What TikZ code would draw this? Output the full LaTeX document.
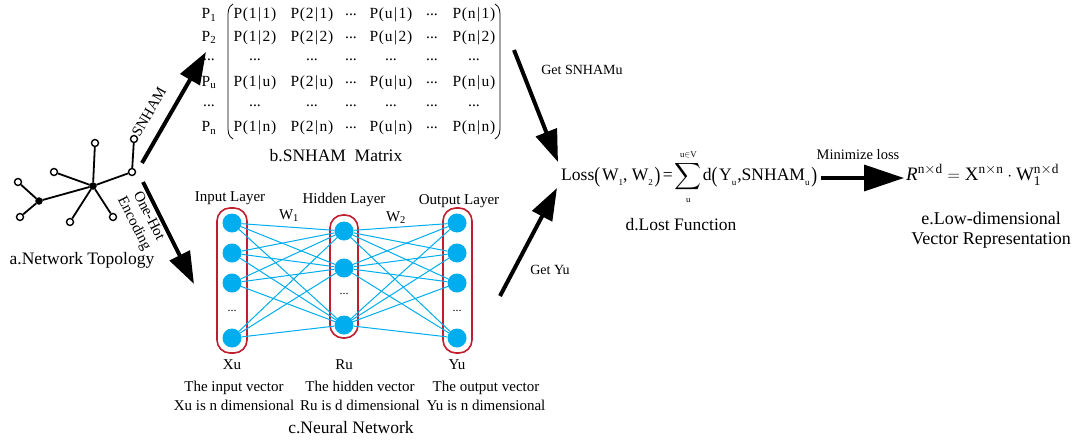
\documentclass[tikz,border=0pt]{standalone}
\usepackage{amsmath}
\usepackage{graphicx}
\usepackage{fontspec}
\setmainfont{Liberation Serif}
\usetikzlibrary{arrows.meta}
\definecolor{nncyan}{RGB}{0,174,239}
\definecolor{nnred}{RGB}{190,30,45}
\newcommand{\tx}[1]{\text{#1}}
\newcommand{\pe}[2]{P\kern0.6pt(\kern0.8pt#1\kern1.5pt|\kern1.5pt#2\kern0.8pt)}
\newcommand{\sbs}[1]{\raisebox{-0.28em}{\fontsize{10}{10}\selectfont #1}}
\newcommand{\bp}[1]{\raisebox{-0.12em}{\scalebox{1}[1.25]{#1}}}
\begin{document}
\begin{tikzpicture}[x=1pt,y=-1pt,
  captext/.style={font=\fontsize{17.5}{21}\selectfont, inner sep=0},
  lbl/.style={font=\fontsize{15}{18}\selectfont, inner sep=0},
  smalltext/.style={font=\fontsize{14}{19}\selectfont, inner sep=0},
  vectext/.style={font=\fontsize{15}{19}\selectfont, inner sep=0, align=center},
  mattext/.style={font=\fontsize{15.5}{18}\selectfont, inner sep=0},
  formula/.style={font=\fontsize{19.5}{22}\selectfont, inner sep=0},
  topo/.style={circle, draw, line width=1.4pt, fill=white, minimum size=7pt, inner sep=0},
  topohub/.style={circle, draw, line width=1.4pt, fill=black, minimum size=6pt, inner sep=0},
  topoedge/.style={line width=1.8pt},
  neuron/.style={circle, fill=nncyan, minimum size=19pt, inner sep=0},
  layerbox/.style={draw=nnred, line width=1.6pt, rounded corners=13pt},
  conn/.style={draw=nncyan, line width=1pt},
  bigarrow/.style={line width=4pt, -{Triangle[length=32pt,width=22pt]}},
]
\useasboundingbox (0,0) rectangle (1073,439);

% ---------- a. Network topology ----------
\node[topohub] (tc) at (93,186) {};
\node[topo] (tt) at (95,143) {};
\node[topo] (tul) at (54,172) {};
\node[topohub] (tlh) at (39,201) {};
\node[topo] (tl1) at (18,182) {};
\node[topo] (tl2) at (20,217) {};
\node[topo] (tlo) at (70,222) {};
\node[topo] (tlr) at (113,217) {};
\node[topo] (trh) at (132,172) {};
\node[topo] (trl) at (134,139) {};
\foreach \a/\b in {tc/tt, tc/tul, tc/tlh, tc/tlo, tc/tlr, tc/trh, tlh/tl1, tlh/tl2, trh/trl}
  \draw[topoedge] (\a) -- (\b);
\node[captext] (capa) at (82,260) {a.Network Topology};

% ---------- arrows from topology ----------
\coordinate (s1) at (142,163);
\coordinate (s2) at (206,52);
\draw[bigarrow] (s1) -- (s2);
\node[lbl, rotate=60] (snhamlbl) at (149,112) {SNHAM};
\coordinate (o1) at (143,182);
\coordinate (o2) at (194,284);
\draw[bigarrow] (o1) -- (o2);
\node[lbl, rotate=-63, align=center, font=\fontsize{15}{16.5}\selectfont] (onehot) at (141,220) {One-Hot\\Encoding};

% ---------- b. SNHAM matrix ----------
\foreach \r/\y/\k in {1/15/1, 2/37.6/2, 4/82.8/u, 6/128/n} {
  \node[mattext] (pl\r) at (209,\y) {$\tx{P}_{\tx{\k}}$};
  \node[mattext] (m\r c1) at (255,\y) {\pe{1}{\k}};
  \node[mattext] (m\r c2) at (312,\y) {\pe{2}{\k}};
  \node[mattext] (m\r c3) at (351,\y) {...};
  \node[mattext] (m\r c4) at (391,\y) {\pe{u}{\k}};
  \node[mattext] (m\r c5) at (432,\y) {...};
  \node[mattext] (m\r c6) at (474,\y) {\pe{n}{\k}};
}
\foreach \r/\y in {3/60.2, 5/105.4} {
  \node[mattext] (pl\r) at (209,\y) {...};
  \foreach \c/\x in {1/255, 2/312, 3/351, 4/391, 5/432, 6/474}
    \node[mattext] (m\r c\c) at (\x,\y) {...};
}
\draw[line width=0.8pt] (233,4) .. controls (228,7) and (228,11) .. (228,18) -- (228,125) .. controls (228,132) and (228,136) .. (233,139);
\draw[line width=0.8pt] (495,4) .. controls (500,7) and (500,11) .. (500,18) -- (500,125) .. controls (500,132) and (500,136) .. (495,139);
\node[captext] (capb) at (336,156) {b.SNHAM\ \ Matrix};

% ---------- c. Neural network ----------
\draw[layerbox] (217,208) rectangle (247,353);
\draw[layerbox] (330,215) rectangle (358,338);
\draw[layerbox] (443,208) rectangle (472,353);
\foreach \i/\y in {1/223, 2/253, 3/283, 4/338}
  \node[neuron] (in\i) at (232,\y) {};
\foreach \i/\y in {1/231, 2/268, 3/325}
  \node[neuron] (hd\i) at (344,\y) {};
\foreach \i/\y in {1/223, 2/253, 3/283, 4/338}
  \node[neuron] (out\i) at (457,\y) {};
\node[smalltext, font=\fontsize{12}{12}\selectfont] (indots) at (232,311) {...};
\node[smalltext, font=\fontsize{12}{12}\selectfont] (hddots) at (344,294) {...};
\node[smalltext, font=\fontsize{12}{12}\selectfont] (outdots) at (457,311) {...};
\foreach \i in {1,2,3,4}
  \foreach \j in {1,2,3} {
    \draw[conn] (in\i) -- (hd\j);
    \draw[conn] (hd\j) -- (out\i);
  }
\node[lbl] (inlbl) at (230,198) {Input Layer};
\node[lbl] (hdlbl) at (344,200) {Hidden Layer};
\node[lbl] (outlbl) at (459,201) {Output Layer};
\node[lbl] (w1) at (289,216) {W$_{\text{1}}$};
\node[lbl] (w2) at (396,218) {W$_{\text{2}}$};
\node[lbl] (xu) at (232,365) {Xu};
\node[lbl] (ru) at (344,365) {Ru};
\node[lbl] (yu) at (457,365) {Yu};
\node[vectext] (xud) at (234,396) {The input vector\\Xu is n dimensional};
\node[vectext] (rud) at (360,396) {The hidden vector\\Ru is d dimensional};
\node[vectext] (yud) at (486,396) {The output vector\\Yu is n dimensional};
\node[captext] (capc) at (351,428) {c.Neural Network};

% ---------- d. Loss function ----------
\node[formula, anchor=west] (loss) at (561,177)
  {\resizebox{256pt}{!}{Loss\bp{(}\kern2pt W\sbs{1}, W\sbs{2}\kern2pt\bp{)}\kern2.5pt=\kern2.5pt$\displaystyle\sum_{\scriptscriptstyle\tx{u}}^{\scriptscriptstyle\tx{u}\in\tx{V}}$\kern1ptd\bp{(}\kern2pt Y\sbs{u}\kern1pt,SNHAM\sbs{u}\kern2pt\bp{)}}};
\coordinate (g1) at (514,50);
\coordinate (g2) at (558,162);
\draw[bigarrow] (g1) -- (g2);
\node[smalltext] (getsn) at (582,70) {Get SNHAMu};
\coordinate (y1) at (500,296);
\coordinate (y2) at (557,188);
\draw[bigarrow] (y1) -- (y2);
\node[smalltext] (getyu) at (550,270) {Get Yu};
\node[captext] (capd) at (681,225) {d.Lost Function};

% ---------- e. Low-dimensional representation ----------
\node[smalltext, font=\fontsize{14.5}{17}\selectfont] (minl) at (858,155) {Minimize loss};
\node[formula, font=\fontsize{19}{22}\selectfont, anchor=west] (rep) at (906,175)
  {$\textit{R}^{\tx{n}\times\tx{d}}=\tx{X}^{\tx{n}\times\tx{n}}\cdot\tx{W}_{\tx{1}}^{\tx{n}\times\tx{d}}$};
\coordinate (m1) at (821,178);
\coordinate (m2) at (904,178);
\draw[line width=3.5pt, -{Triangle[length=40pt,width=26pt]}] (m1) -- (m2);
\node[captext, align=center, font=\fontsize{18}{20}\selectfont] (cape) at (991,230) {e.Low-dimensional\\Vector Representation};
\end{tikzpicture}
\end{document}
